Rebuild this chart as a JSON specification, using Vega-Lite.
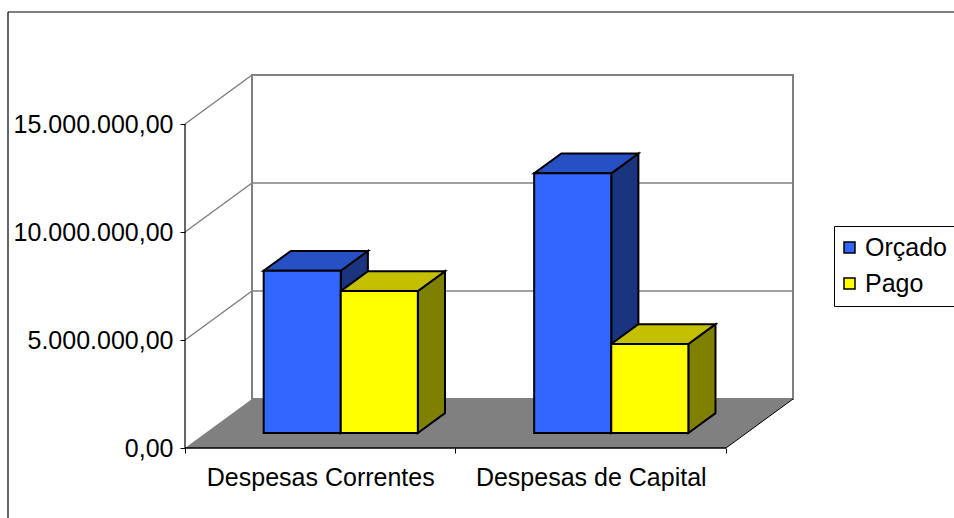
{
  "$schema": "https://vega.github.io/schema/vega-lite/v6.json",
  "width": 954,
  "height": 518,
  "autosize": {"type": "none"},
  "padding": 0,
  "background": "white",
  "config": {
    "view": {"stroke": null},
    "font": "Liberation Sans",
    "locale": {"number": {"decimal": ",", "thousands": ".", "grouping": [3], "currency": ["R$", ""]}}
  },
  "datasets": {
    "despesas": [
      {"categoria": "Despesas Correntes", "serie": "Orçado", "valor": 7510000},
      {"categoria": "Despesas Correntes", "serie": "Pago", "valor": 6570000},
      {"categoria": "Despesas de Capital", "serie": "Orçado", "valor": 12020000},
      {"categoria": "Despesas de Capital", "serie": "Pago", "valor": 4120000}
    ],
    "marcas": [{"v": 0}, {"v": 5000000}, {"v": 10000000}, {"v": 15000000}]
  },
  "layer": [
    {
      "data": {"name": "marcas"},
      "transform": [
        {"filter": "datum.v === 0"},
        {"calculate": "[0, 1]", "as": "prof"},
        {"flatten": ["prof"]},
        {"calculate": "0.5 + datum.prof * 0.24769", "as": "fx1"},
        {"calculate": "2.5 + datum.prof * 0.24769", "as": "fx2"},
        {"calculate": "datum.prof * 2268519", "as": "fy"}
      ],
      "mark": {"type": "area", "orient": "horizontal", "fill": "#808080", "stroke": null},
      "encoding": {
        "y": {
          "field": "fy", "type": "quantitative", "stack": null,
          "scale": {"domain": [-3240741, 20740741], "nice": false, "zero": false},
          "axis": {
            "title": null, "values": [0, 5000000, 10000000, 15000000], "format": ",.2f",
            "offset": -185, "domain": false, "grid": false, "tickSize": 5, "tickColor": "black",
            "tickWidth": 1, "labelFont": "Liberation Sans", "labelFontSize": 25, "labelColor": "black",
            "labelPadding": 7, "labelOverlap": false, "labelBound": false, "labelFlush": false, "labelLimit": 0
          }
        },
        "x": {
          "field": "fx1", "type": "quantitative", "stack": null,
          "scale": {"domain": [-0.183919, 3.342884], "nice": false, "zero": false},
          "axis": {
            "title": null, "values": [0.5, 1, 1.5, 2, 2.5], "offset": -70, "domain": false, "grid": false,
            "tickSize": 5, "tickColor": "black", "tickWidth": 1,
            "tickOpacity": {"condition": {"test": "datum.value % 1 === 0", "value": 0}, "value": 1},
            "labelExpr": "datum.value === 1 ? 'Despesas Correntes' : datum.value === 2 ? 'Despesas de Capital' : ''",
            "labelFont": "Liberation Sans", "labelFontSize": 25, "labelColor": "black", "labelLimit": 0,
            "labelPadding": 12, "labelBaseline": "top", "labelOverlap": false, "labelFlush": false, "labelBound": false
          }
        },
        "x2": {"field": "fx2"}
      }
    },
    {
      "data": {"values": [{}]},
      "mark": {"type": "rect", "filled": false, "stroke": "#808080", "strokeWidth": 2},
      "encoding": {
        "x": {"datum": 0.74769, "type": "quantitative"},
        "x2": {"datum": 2.74769},
        "y": {"datum": 2268519, "type": "quantitative"},
        "y2": {"datum": 17268519}
      }
    },
    {
      "data": {"name": "marcas"},
      "transform": [
        {"filter": "datum.v > 0 && datum.v < 15000000"},
        {"calculate": "datum.v + 2268519", "as": "vb"}
      ],
      "mark": {"type": "rule", "color": "#808080", "strokeWidth": 1.5},
      "encoding": {
        "x": {"datum": 0.74769, "type": "quantitative"},
        "x2": {"datum": 2.74769},
        "y": {"field": "vb", "type": "quantitative"}
      }
    },
    {
      "data": {"name": "marcas"},
      "transform": [
        {"filter": "datum.v > 0"},
        {"calculate": "datum.v + 2268519", "as": "vb"}
      ],
      "mark": {"type": "rule", "color": "#808080", "strokeWidth": 1.5},
      "encoding": {
        "x": {"datum": 0.5, "type": "quantitative"},
        "x2": {"datum": 0.74769},
        "y": {"field": "v", "type": "quantitative"},
        "y2": {"field": "vb"}
      }
    },
    {
      "data": {"values": [{}]},
      "mark": {"type": "rule", "color": "black", "strokeWidth": 1},
      "encoding": {
        "x": {"datum": 2.5, "type": "quantitative"},
        "x2": {"datum": 2.74769},
        "y": {"datum": 0, "type": "quantitative"},
        "y2": {"datum": 2268519}
      }
    },
    {
      "data": {"values": [{}]},
      "mark": {"type": "rule", "color": "black", "strokeWidth": 1.2},
      "encoding": {
        "x": {"datum": 0.5, "type": "quantitative"},
        "y": {"datum": 0, "type": "quantitative"},
        "y2": {"datum": 15000000}
      }
    },
    {
      "data": {"values": [{}]},
      "mark": {"type": "rule", "color": "black", "strokeWidth": 1.5},
      "encoding": {
        "x": {"datum": 0.5, "type": "quantitative"},
        "x2": {"datum": 2.5},
        "y": {"datum": 0, "type": "quantitative"}
      }
    },
    {
      "data": {"values": [{}]},
      "mark": {"type": "rule", "color": "black", "strokeWidth": 1.2},
      "encoding": {
        "x": {"datum": -0.15434, "type": "quantitative"},
        "y": {"datum": 20185185, "type": "quantitative"},
        "y2": {"datum": -3240741}
      }
    },
    {
      "data": {"values": [{}]},
      "mark": {"type": "rule", "color": "black", "strokeWidth": 1.2},
      "encoding": {
        "x": {"datum": -0.15434, "type": "quantitative"},
        "x2": {"datum": 3.342884},
        "y": {"datum": 20185185, "type": "quantitative"}
      }
    },
    {
      "data": {"name": "despesas"},
      "transform": [
        {"calculate": "datum.categoria === 'Despesas Correntes' ? 1 : 2", "as": "ci"},
        {"calculate": "datum.serie === 'Orçado' ? 0 : 1", "as": "si"},
        {"calculate": "datum.ci - 0.285 + datum.si * 0.285", "as": "xl"},
        {"calculate": "datum.xl + 0.285", "as": "xr"},
        {"calculate": "datum.categoria + '|' + datum.serie", "as": "barra"}
      ],
      "layer": [
        {
          "transform": [
            {"calculate": "[0.306, 0.711]", "as": "prof"},
            {"flatten": ["prof"]},
            {"calculate": "datum.xr + datum.prof * 0.24769", "as": "sx"},
            {"calculate": "datum.prof * 2268519", "as": "sy1"},
            {"calculate": "datum.valor + datum.prof * 2268519", "as": "sy2"}
          ],
          "mark": {"type": "area", "orient": "vertical", "stroke": "black", "strokeWidth": 2, "strokeJoin": "miter"},
          "encoding": {
            "x": {"field": "sx", "type": "quantitative"},
            "y": {"field": "sy1", "type": "quantitative", "stack": null},
            "y2": {"field": "sy2"},
            "detail": {"field": "barra"},
            "fill": {"condition": {"test": "datum.serie === 'Orçado'", "value": "#1A3480"}, "value": "#808000"}
          }
        },
        {
          "transform": [
            {"calculate": "[0.306, 0.711]", "as": "prof"},
            {"flatten": ["prof"]},
            {"calculate": "datum.xl + datum.prof * 0.24769", "as": "tx1"},
            {"calculate": "datum.xr + datum.prof * 0.24769", "as": "tx2"},
            {"calculate": "datum.valor + datum.prof * 2268519", "as": "ty"}
          ],
          "mark": {"type": "area", "orient": "horizontal", "stroke": "black", "strokeWidth": 2, "strokeJoin": "miter"},
          "encoding": {
            "y": {"field": "ty", "type": "quantitative"},
            "x": {"field": "tx1", "type": "quantitative", "stack": null},
            "x2": {"field": "tx2"},
            "detail": {"field": "barra"},
            "fill": {"condition": {"test": "datum.serie === 'Orçado'", "value": "#2650C4"}, "value": "#C4C000"}
          }
        },
        {
          "transform": [
            {"calculate": "datum.xl + 0.075793", "as": "fx"},
            {"calculate": "datum.xr + 0.075793", "as": "fx2"},
            {"calculate": "694167", "as": "fy"},
            {"calculate": "datum.valor + 694167", "as": "fy2"}
          ],
          "mark": {"type": "rect", "stroke": "black", "strokeWidth": 2, "strokeJoin": "miter"},
          "encoding": {
            "x": {"field": "fx", "type": "quantitative"},
            "x2": {"field": "fx2"},
            "y": {"field": "fy", "type": "quantitative"},
            "y2": {"field": "fy2"},
            "fill": {
              "field": "serie", "type": "nominal",
              "scale": {"domain": ["Orçado", "Pago"], "range": ["#3366FF", "#FFFF00"]},
              "legend": {
                "title": null, "orient": "none", "legendX": 834, "legendY": 226,
                "strokeColor": "black", "fillColor": "white", "padding": 9,
                "symbolType": "square", "symbolSize": 121, "symbolStrokeColor": "black", "symbolStrokeWidth": 1.5,
                "symbolOpacity": 1, "symbolOffset": -6, "labelLimit": 0,
                "labelFont": "Liberation Sans", "labelFontSize": 25, "labelColor": "black",
                "labelOffset": 3, "rowPadding": 10
              }
            }
          }
        }
      ]
    }
  ]
}
